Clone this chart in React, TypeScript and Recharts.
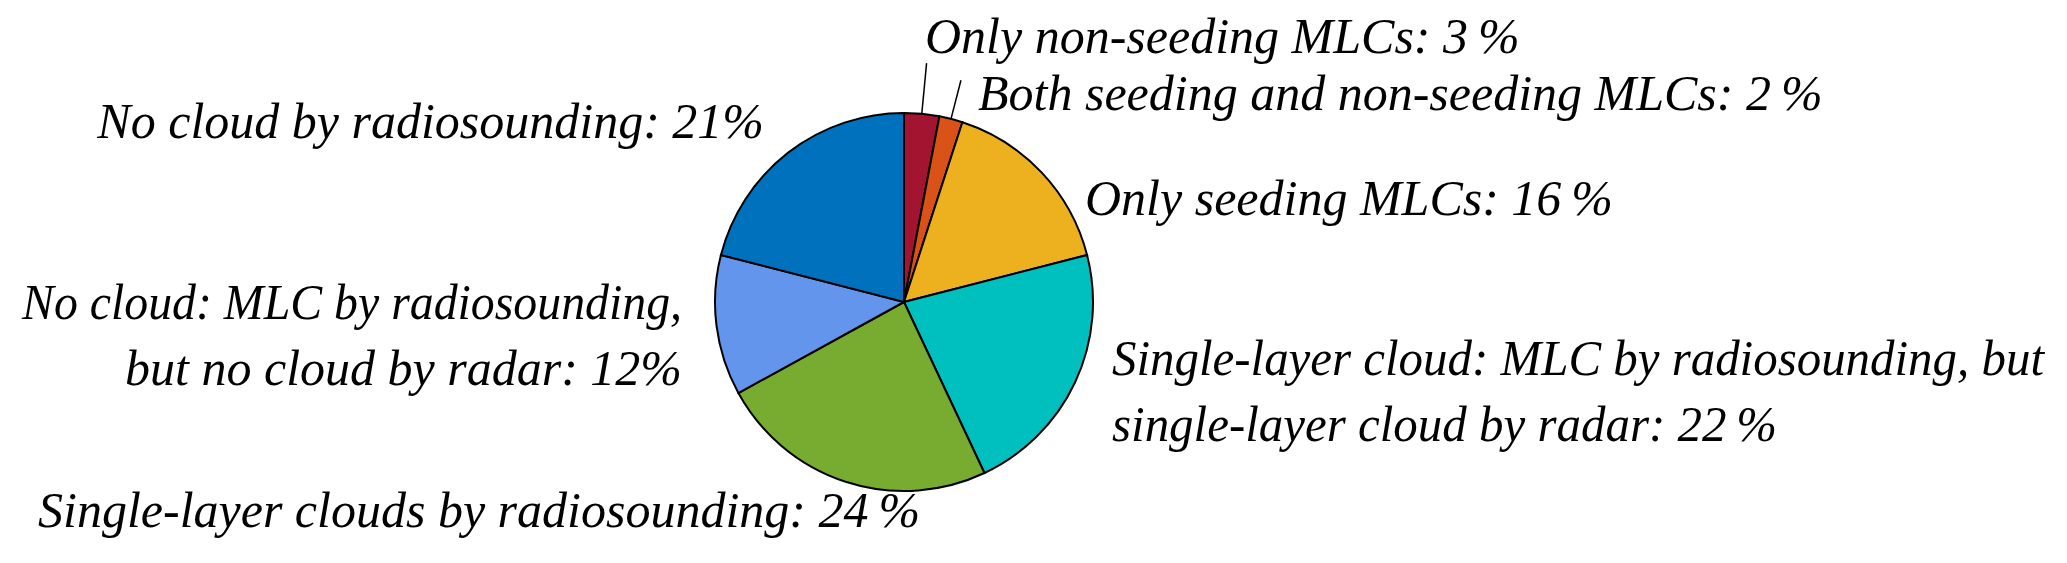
import { PieChart, Pie, Cell } from "recharts";

const categories = [
  "Only non-seeding MLCs",
  "Both seeding and non-seeding MLCs",
  "Only seeding MLCs",
  "Single-layer cloud: MLC by radiosounding, but\nsingle-layer cloud by radar",
  "Single-layer clouds by radiosounding",
  "No cloud: MLC by radiosounding,\nbut no cloud by radar",
  "No cloud by radiosounding",
];
const shares = [3, 2, 16, 22, 24, 12, 21];
// thin space before % on most labels, none on the last two
const pctGap = ["\u2009", "\u2009", "\u2009", "\u2009", "\u2009", "", ""];
const colors = ["#A2142F", "#D95319", "#EDB120", "#00BFBF", "#77AC30", "#6495ED", "#0072BD"];

const data = categories.map((name, i) => ({ name, value: shares[i] }));

// where each label sits, relative to the pie centre (first baseline)
// fit = textLength per line (0 = natural width)
const labelLayout = [
  { dx: 21, dy: -249, anchor: "start", fit: [0] },
  { dx: 74, dy: -192, anchor: "start", fit: [0] },
  { dx: 181, dy: -87, anchor: "start", fit: [0] },
  { dx: 208, dy: 73, anchor: "start", fit: [932, 665] },
  { dx: -866, dy: 225, anchor: "start", fit: [0] },
  { dx: -222, dy: 17, anchor: "end", fit: [660, 0] },
  { dx: -140, dy: -164, anchor: "end", fit: [0] },
];
// leader lines only for the two thin slices
const leaderExt = [51, 40, 0, 0, 0, 0, 0];

const LINE_H = 66;
const RAD = Math.PI / 180;

function renderLabel(props: any) {
  const { cx, cy, midAngle, outerRadius, index } = props;
  const pos = labelLayout[index];
  const lines = categories[index].split("\n");
  lines[lines.length - 1] += ": " + shares[index] + pctGap[index] + "%";
  const x = cx + pos.dx;
  const y = cy + pos.dy;
  const ext = leaderExt[index];
  const cos = Math.cos(-midAngle * RAD);
  const sin = Math.sin(-midAngle * RAD);
  return (
    <g key={"lbl" + index}>
      {ext > 0 && (
        <line
          x1={cx + outerRadius * cos}
          y1={cy + outerRadius * sin}
          x2={cx + (outerRadius + ext) * cos}
          y2={cy + (outerRadius + ext) * sin}
          stroke="#000"
          strokeWidth={1.5}
        />
      )}
      {lines.map((ln, k) => {
        const len = pos.fit[k] || 0;
        return (
          <text
            key={k}
            x={x}
            y={y + k * LINE_H}
            textAnchor={pos.anchor}
            fill="#000"
            fontSize={50}
            fontStyle="italic"
            fontFamily="'Liberation Serif', 'Times New Roman', serif"
            {...(len > 0 ? { textLength: len, lengthAdjust: "spacingAndGlyphs" } : {})}
          >
            {ln}
          </text>
        );
      })}
    </g>
  );
}

export default function App() {
  return (
    <div style={{ position: "absolute", left: 0, top: 0, width: 2067, height: 563, background: "#fff" }}>
      <PieChart width={2067} height={563} margin={{ top: 0, right: 0, bottom: 0, left: 0 }}>
        <Pie
          data={data}
          dataKey="value"
          nameKey="name"
          cx={904}
          cy={302}
          outerRadius={189}
          startAngle={90}
          endAngle={-270}
          stroke="#000"
          strokeWidth={2}
          labelLine={false}
          label={renderLabel}
          isAnimationActive={false}
        >
          {data.map((d, i) => (
            <Cell key={d.name} fill={colors[i]} />
          ))}
        </Pie>
      </PieChart>
    </div>
  );
}
